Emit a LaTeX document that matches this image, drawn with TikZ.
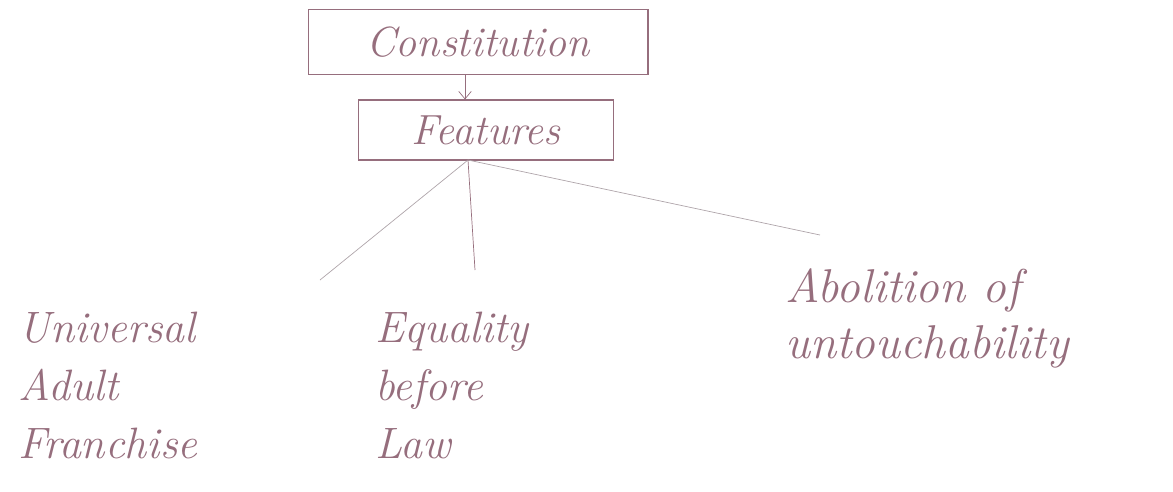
\documentclass[tikz,border=0pt]{standalone}
\usepackage{tikz}
\usetikzlibrary{arrows.meta}
\definecolor{pencil}{RGB}{150,110,125}
\definecolor{faint}{RGB}{175,165,170}

\begin{document}
\begin{tikzpicture}[x=0.02cm, y=-0.02cm,
    box/.style={draw=pencil, semithick, text=pencil, font=\itshape\fontsize{24}{28}\selectfont},
    hand/.style={text=pencil, font=\itshape\fontsize{25}{33}\selectfont, align=left, anchor=north west, inner sep=0pt},
    branch/.style={draw=faint, thin}]
  \useasboundingbox (0,0) rectangle (1173,491);
  % boxes
  \node[box, minimum width=6.8cm, minimum height=1.3cm] (const) at (478,42) {Constitution};
  \node[box, minimum width=5.1cm, minimum height=1.2cm] (feat) at (486,130) {Features};
  \draw[pencil, -{Straight Barb[length=1.5mm, width=2.5mm]}] ([xshift=-0.26cm]const.south) -- ([xshift=-0.26cm]const.south |- feat.north);
  % branches
  \coordinate (hub) at (468,160);
  \coordinate (lend) at (320,280);
  \coordinate (mend) at (475,270);
  \coordinate (rend) at (820,235);
  \draw[branch] (hub) -- (lend);
  \draw[branch, pencil] (hub) -- (mend);
  \draw[branch] (hub) -- (rend);
  % leaves
  \node[hand] (uaf) at (18,312) {Universal\\Adult\\Franchise};
  \node[hand] (ebl) at (375,312) {Equality\\before\\Law};
  \node[hand, font=\itshape\fontsize{27}{32}\selectfont] (aou) at (785,268) {Abolition of\\untouchability};
\end{tikzpicture}
\end{document}
